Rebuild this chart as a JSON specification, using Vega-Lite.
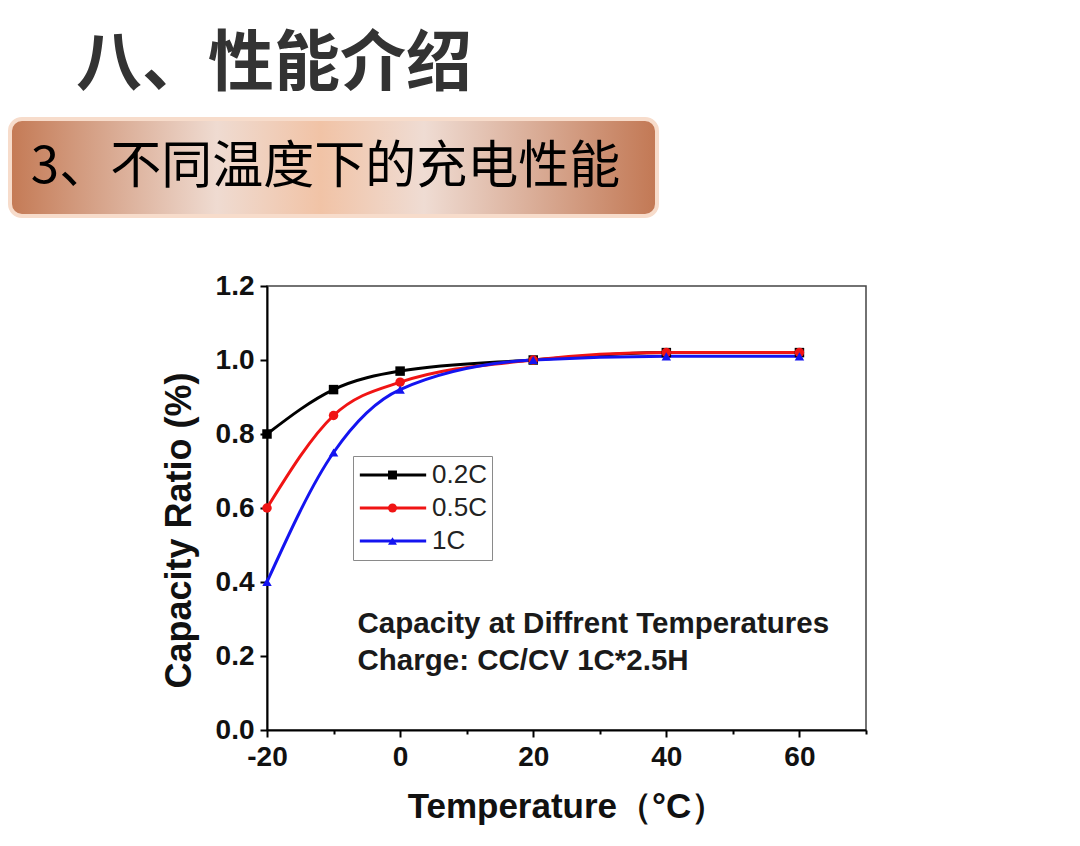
{
  "$schema": "https://vega.github.io/schema/vega-lite/v6.json",
  "background": "white",
  "padding": {"left": 8, "top": 32, "right": 0, "bottom": 0},
  "title": {
    "text": "八、性能介绍",
    "anchor": "start",
    "dx": 68,
    "offset": 18,
    "font": "Noto Sans CJK SC",
    "fontSize": 66,
    "fontWeight": "bold",
    "color": "#333333"
  },
  "spacing": 53,
  "vconcat": [
    {
      "width": 647,
      "height": 97,
      "view": {"stroke": null},
      "data": {"values": [{"heading": "3、不同温度下的充电性能"}]},
      "layer": [
        {
          "mark": {
            "type": "rect",
            "cornerRadius": 12,
            "stroke": "#f7dccb",
            "strokeWidth": 4,
            "fill": {
              "gradient": "linear",
              "x1": 0, "y1": 0, "x2": 1, "y2": 0,
              "stops": [
                {"offset": 0, "color": "#c47a55"},
                {"offset": 0.32, "color": "#efdbd1"},
                {"offset": 0.48, "color": "#f1c3a6"},
                {"offset": 0.64, "color": "#efdcd3"},
                {"offset": 1, "color": "#c27854"}
              ]
            }
          },
          "encoding": {}
        },
        {
          "mark": {
            "type": "rect",
            "cornerRadius": 12,
            "fill": {
              "gradient": "radial",
              "x1": 0.48, "y1": 1, "r1": 0,
              "x2": 0.48, "y2": 1, "r2": 0.32,
              "stops": [
                {"offset": 0, "color": "rgba(244,135,75,0.95)"},
                {"offset": 1, "color": "rgba(244,135,75,0)"}
              ]
            }
          },
          "encoding": {}
        },
        {
          "mark": {
            "type": "text",
            "font": "Noto Sans CJK SC",
            "fontSize": 51,
            "color": "#000000",
            "dx": -8
          },
          "encoding": {"text": {"field": "heading"}}
        }
      ]
    },
    {
      "spacing": 149,
      "hconcat": [
        {
          "width": 1,
          "height": 444,
          "view": {"stroke": null},
          "data": {"values": [{}]},
          "mark": "text",
          "encoding": {"text": {"value": ""}}
        },
        {
          "width": 599,
          "height": 444,
          "view": {"stroke": "#444444", "strokeWidth": 1.5},
          "data": {
            "values": [
              {"temp": -20, "ratio": 0.80, "rate": "0.2C"},
              {"temp": -10, "ratio": 0.92, "rate": "0.2C"},
              {"temp": 0, "ratio": 0.97, "rate": "0.2C"},
              {"temp": 20, "ratio": 1.00, "rate": "0.2C"},
              {"temp": 40, "ratio": 1.02, "rate": "0.2C"},
              {"temp": 60, "ratio": 1.02, "rate": "0.2C"},
              {"temp": -20, "ratio": 0.60, "rate": "0.5C"},
              {"temp": -10, "ratio": 0.85, "rate": "0.5C"},
              {"temp": 0, "ratio": 0.94, "rate": "0.5C"},
              {"temp": 20, "ratio": 1.00, "rate": "0.5C"},
              {"temp": 40, "ratio": 1.02, "rate": "0.5C"},
              {"temp": 60, "ratio": 1.02, "rate": "0.5C"},
              {"temp": -20, "ratio": 0.40, "rate": "1C"},
              {"temp": -10, "ratio": 0.75, "rate": "1C"},
              {"temp": 0, "ratio": 0.92, "rate": "1C"},
              {"temp": 20, "ratio": 1.00, "rate": "1C"},
              {"temp": 40, "ratio": 1.01, "rate": "1C"},
              {"temp": 60, "ratio": 1.01, "rate": "1C"}
            ]
          },
          "layer": [
            {
              "mark": {"type": "line", "interpolate": "monotone", "strokeWidth": 3},
              "encoding": {
                "x": {
                  "field": "temp",
                  "type": "quantitative",
                  "scale": {"domain": [-20, 70], "nice": false, "zero": false},
                  "axis": {
                    "values": [-20, -10, 0, 10, 20, 30, 40, 50, 60, 70],
                    "labelExpr": "datum.value % 20 == 0 && datum.value <= 60 ? '' + datum.value : ''",
                    "title": "Temperature（°C）",
                    "titleFontSize": 35,
                    "tickSize": {"condition": {"test": "datum.value % 20 == 0", "value": 7}, "value": 4},
                    "labelPadding": 6,
                    "titlePadding": 18
                  }
                },
                "y": {
                  "field": "ratio",
                  "type": "quantitative",
                  "scale": {"domain": [0, 1.2], "nice": false},
                  "axis": {
                    "values": [0, 0.1, 0.2, 0.3, 0.4, 0.5, 0.6, 0.7, 0.8, 0.9, 1.0, 1.1, 1.2],
                    "labelExpr": "round(datum.value * 10) % 2 == 0 ? format(datum.value, '.1f') : ''",
                    "title": "Capacity Ratio (%)",
                    "titleY": 244,
                    "tickSize": {"condition": {"test": "round(datum.value * 10) % 2 == 0", "value": 7}, "value": 4},
                    "labelPadding": 6,
                    "titlePadding": 17
                  }
                },
                "color": {
                  "field": "rate",
                  "type": "nominal",
                  "scale": {"domain": ["0.2C", "0.5C", "1C"], "range": ["#000000", "#f01414", "#1414f0"]},
                  "legend": {
                    "orient": "none",
                    "legendX": 86,
                    "legendY": 170,
                    "title": null,
                    "symbolType": "stroke",
                    "symbolSize": 4400,
                    "symbolStrokeWidth": 3,
                    "clipHeight": 28,
                    "rowPadding": 5,
                    "padding": 5,
                    "labelOffset": 4,
                    "labelFont": "Liberation Sans",
                    "labelFontSize": 26,
                    "labelColor": "#222222",
                    "strokeColor": "#8a8a8a"
                  }
                }
              }
            },
            {
              "mark": {"type": "point", "filled": true, "size": 90, "opacity": 1},
              "encoding": {
                "x": {"field": "temp", "type": "quantitative"},
                "y": {"field": "ratio", "type": "quantitative"},
                "color": {
                  "field": "rate",
                  "type": "nominal",
                  "legend": {
                    "orient": "none",
                    "legendX": 115,
                    "legendY": 170,
                    "title": null,
                    "symbolSize": 80,
                    "clipHeight": 28,
                    "rowPadding": 5,
                    "padding": 5,
                    "labelExpr": "''"
                  }
                },
                "shape": {
                  "field": "rate",
                  "type": "nominal",
                  "scale": {"domain": ["0.2C", "0.5C", "1C"], "range": ["square", "circle", "triangle-up"]},
                  "legend": {
                    "orient": "none",
                    "legendX": 115,
                    "legendY": 170,
                    "title": null,
                    "symbolSize": 80,
                    "clipHeight": 28,
                    "rowPadding": 5,
                    "padding": 5,
                    "labelExpr": "''"
                  }
                }
              }
            },
            {
              "data": {"values": [{"note": "Capacity at Diffrent Temperatures\nCharge: CC/CV 1C*2.5H"}]},
              "mark": {
                "type": "text",
                "align": "left",
                "baseline": "top",
                "lineBreak": "\n",
                "lineHeight": 37,
                "font": "Liberation Sans",
                "fontSize": 29.5,
                "fontWeight": "bold",
                "color": "#1a1a1a"
              },
              "encoding": {
                "x": {"datum": -6.4, "type": "quantitative"},
                "y": {"datum": 0.325, "type": "quantitative"},
                "text": {"field": "note", "type": "nominal"}
              }
            }
          ],
          "resolve": {"legend": {"color": "independent", "shape": "independent"}}
        }
      ]
    }
  ],
  "config": {
    "axis": {
      "grid": false,
      "domainColor": "#000000",
      "domainWidth": 2,
      "tickColor": "#000000",
      "tickWidth": 2,
      "labelFont": "Liberation Sans",
      "labelFontSize": 28,
      "labelFontWeight": "bold",
      "labelColor": "#111111",
      "labelFlush": false,
      "labelOverlap": false,
      "titleFont": "Liberation Sans",
      "titleFontSize": 36,
      "titleFontWeight": "bold",
      "titleColor": "#111111"
    }
  }
}
